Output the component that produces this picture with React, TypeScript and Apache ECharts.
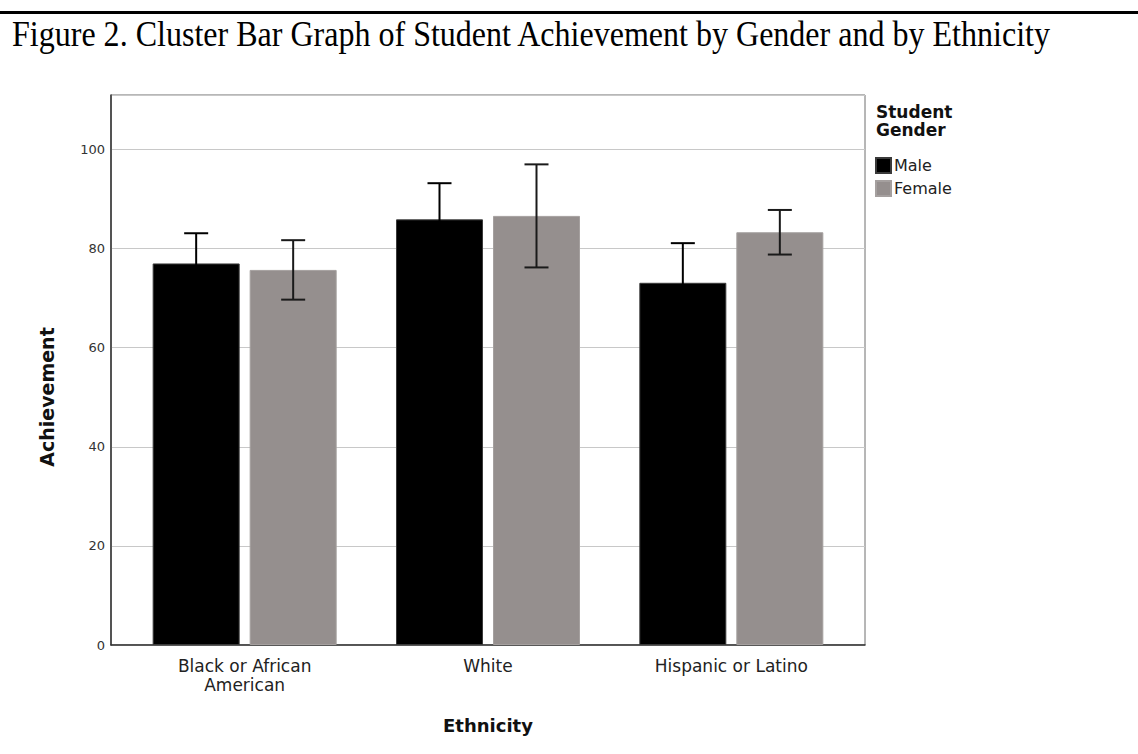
import React, { useEffect, useRef } from "react";
import * as echarts from "echarts";

// Ethnic groups on the category axis
const categories = ["Black or African\nAmerican", "White", "Hispanic or Latino"];
const genders = ["Male", "Female"];

// Mean achievement per group
const maleMeans = [77.0, 85.9, 73.1];
const femaleMeans = [75.7, 86.6, 83.3];

// Error bar ends (lower / upper)
const maleLow = [70.9, 78.6, 65.1];
const maleHigh = [83.1, 93.2, 81.1];
const femaleLow = [69.7, 76.2, 78.8];
const femaleHigh = [81.7, 97.0, 87.8];

const Y_MIN = 0;
const Y_MAX = 111;
const Y_STEP = 20;

const SANS = "'DejaVu Sans', 'Noto Sans', sans-serif";
const BAR_W = 87;
const BAR_GAP_PX = 10;

function errorBarSeries(
  name: string,
  low: number[],
  high: number[],
  offset: number,
  color: string
) {
  return {
    name,
    type: "custom",
    xAxisIndex: 1,
    yAxisIndex: 1,
    z: 5,
    encode: { x: 0, y: [1, 2] },
    data: low.map((lo, i) => [i, lo, high[i]]),
    renderItem: (_params: any, api: any) => {
      const idx = api.value(0);
      const top = api.coord([idx, api.value(2)]);
      const bot = api.coord([idx, api.value(1)]);
      const x = top[0] + offset;
      const cap = 12;
      const style = { stroke: color, lineWidth: 2 };
      return {
        type: "group",
        children: [
          { type: "line", shape: { x1: x, y1: top[1], x2: x, y2: bot[1] }, style },
          { type: "line", shape: { x1: x - cap, y1: top[1], x2: x + cap, y2: top[1] }, style },
          { type: "line", shape: { x1: x - cap, y1: bot[1], x2: x + cap, y2: bot[1] }, style },
        ],
      };
    },
  };
}

export default function App() {
  const ref = useRef<HTMLDivElement>(null);

  useEffect(() => {
    if (!ref.current) return;
    const chart = echarts.init(ref.current, undefined, { renderer: "svg" });
    const half = (BAR_W + BAR_GAP_PX) / 2;

    chart.setOption({
      animation: false,
      backgroundColor: "#ffffff",
      grid: [
        // frame with gridlines
        {
          left: 111,
          right: 1138 - 865,
          top: 95,
          bottom: 754 - 645,
          show: true,
          borderColor: "#6e6e6e",
          borderWidth: 1,
          backgroundColor: "transparent",
        },
        // inner band holding the bar clusters
        {
          left: 123,
          right: 1138 - 853,
          top: 95,
          bottom: 754 - 645,
        },
      ],
      xAxis: [
        {
          gridIndex: 0,
          type: "category",
          data: categories,
          axisLine: { show: true, lineStyle: { color: "#333", width: 1.5 } },
          axisTick: { show: false },
          axisLabel: { show: false },
          splitLine: { show: false },
        },
        {
          gridIndex: 1,
          type: "category",
          data: categories,
          axisLine: { show: false },
          axisTick: { show: false },
          axisLabel: {
            show: true,
            margin: 11,
            fontFamily: SANS,
            fontSize: 17,
            lineHeight: 19,
            color: "#222",
          },
          name: "Ethnicity",
          nameLocation: "middle",
          nameGap: 71,
          nameTextStyle: { fontFamily: SANS, fontSize: 18, fontWeight: "bold", color: "#111" },
        },
      ],
      yAxis: [
        {
          gridIndex: 0,
          type: "value",
          min: Y_MIN,
          max: Y_MAX,
          interval: Y_STEP,
          axisLine: { show: true, lineStyle: { color: "#333", width: 1.5 } },
          axisTick: { show: false },
          axisLabel: {
            showMaxLabel: false,
            margin: 6,
            fontFamily: SANS,
            fontSize: 13,
            color: "#333",
          },
          splitLine: { show: true, lineStyle: { color: "#c8c8c8", width: 1 } },
        },
        {
          gridIndex: 1,
          type: "value",
          min: Y_MIN,
          max: Y_MAX,
          interval: Y_STEP,
          show: false,
          splitLine: { show: false },
        },
      ],
      legend: {
        data: genders,
        orient: "vertical",
        left: 875,
        top: 157,
        icon: "rect",
        itemWidth: 15,
        itemHeight: 15,
        itemGap: 6,
        padding: 0,
        textStyle: { fontFamily: SANS, fontSize: 16, color: "#222", padding: [0, 0, 0, -2] },
      },
      graphic: [
        {
          type: "rect",
          left: 0,
          top: 11,
          shape: { width: 1138, height: 3 },
          style: { fill: "#000" },
        },
        {
          type: "text",
          x: 12,
          y: 16,
          scaleX: 0.89,
          style: {
            text: "Figure 2. Cluster Bar Graph of Student Achievement by Gender and by Ethnicity",
            font: "36px 'Liberation Serif', 'Times New Roman', serif",
            fill: "#000",
            verticalAlign: "top",
          },
        },
        {
          type: "text",
          x: 876,
          y: 103,
          style: {
            text: "Student\nGender",
            font: `bold 17px ${SANS}`,
            lineHeight: 18,
            fill: "#111",
            verticalAlign: "top",
          },
        },
        {
          type: "text",
          x: 47,
          y: 397,
          rotation: Math.PI / 2,
          style: {
            text: "Achievement",
            font: `bold 19px ${SANS}`,
            fill: "#111",
            align: "center",
            verticalAlign: "middle",
          },
        },
      ],
      series: [
        {
          name: "Male",
          type: "bar",
          xAxisIndex: 1,
          yAxisIndex: 1,
          data: maleMeans,
          barWidth: BAR_W,
          barGap: `${(BAR_GAP_PX / BAR_W) * 100}%`,
          itemStyle: { color: "#000000", borderColor: "#3a3a3a", borderWidth: 1 },
        },
        {
          name: "Female",
          type: "bar",
          xAxisIndex: 1,
          yAxisIndex: 1,
          data: femaleMeans,
          barWidth: BAR_W,
          barGap: `${(BAR_GAP_PX / BAR_W) * 100}%`,
          itemStyle: { color: "#958f8e", borderColor: "#a5a09f", borderWidth: 1 },
        },
        errorBarSeries("Male error", maleLow, maleHigh, -half, "#000000"),
        errorBarSeries("Female error", femaleLow, femaleHigh, half, "#1a1a1a"),
      ],
    });

    return () => chart.dispose();
  }, []);

  return (
    <div
      ref={ref}
      style={{ position: "absolute", left: 0, top: 0, width: 1138, height: 754 }}
    />
  );
}
